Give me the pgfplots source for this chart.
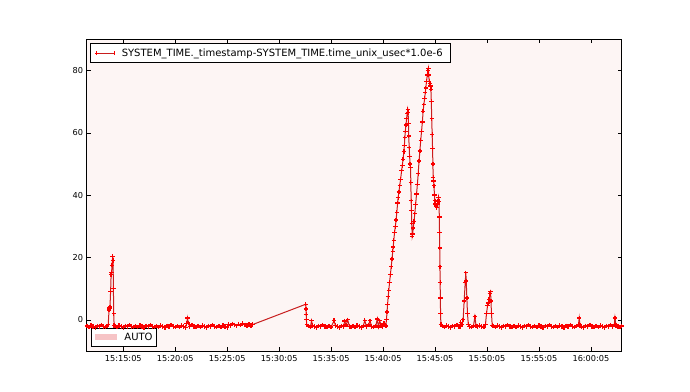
\documentclass[border=0pt]{standalone}
\usepackage{pgfplots}
\usepackage{pgfplotstable}
\pgfplotsset{compat=1.18}
\usepackage{fontspec}
\setmainfont{DejaVu Sans}
\definecolor{bgpink}{RGB}{253,245,244}
\definecolor{autopink}{RGB}{246,196,198}
\definecolor{lineR}{RGB}{200,30,30}
\definecolor{markR}{RGB}{250,0,0}
\pgfplotstableread[row sep=\\]{
x y\\
-3.5 -2.0\\ -3.3 -2.3\\ -3.1 -1.8\\ -2.9 -2.1\\ -2.7 -2.4\\ -2.5 -1.9\\ -2.3 -2.2\\ -2.1 -1.7\\ -1.9 -2.1\\ -1.7 -2.3\\ -1.55 -2.0\\
-1.45 -1.6\\ -1.37 3.2\\ -1.33 3.8\\ -1.28 4.2\\ -1.22 9\\ -1.17 14.5\\ -1.13 15.2\\ -1.08 17.5\\ -1.02 20.4\\ -0.98 19\\ -0.95 10\\ -0.92 2\\ -0.88 -1.8\\
-0.8 -2.0\\ -0.6 -2.3\\ -0.4 -1.8\\ -0.2 -2.1\\ 0 -2.4\\ 0.2 -1.9\\ 0.4 -2.2\\ 0.6 -1.7\\ 0.8 -2.1\\ 1.0 -2.3\\
1.2 -2.0\\ 1.4 -2.3\\ 1.6 -1.8\\ 1.8 -2.1\\ 2.0 -2.4\\ 2.2 -1.9\\ 2.4 -2.2\\ 2.6 -1.7\\ 2.8 -2.1\\ 3.0 -2.3\\
3.2 -2.0\\ 3.4 -2.3\\ 3.6 -1.8\\ 3.8 -2.1\\ 4.0 -2.4\\ 4.2 -1.9\\ 4.4 -2.2\\ 4.6 -1.7\\ 4.8 -2.1\\ 5.0 -2.3\\
5.2 -2.0\\ 5.4 -2.3\\ 5.6 -1.8\\ 5.8 -2.1\\ 6.0 -2.4\\ 6.1 -1.2\\ 6.18 0.6\\ 6.25 -1.0\\ 6.4 -2.2\\ 6.6 -1.7\\ 6.8 -2.1\\ 7.0 -2.3\\
7.2 -2.0\\ 7.4 -2.3\\ 7.6 -1.8\\ 7.8 -2.1\\ 8.0 -2.4\\ 8.2 -1.9\\ 8.4 -2.2\\ 8.6 -1.7\\ 8.8 -2.1\\ 9.0 -2.3\\
9.2 -2.0\\ 9.4 -2.3\\ 9.6 -1.8\\ 9.8 -2.1\\ 10.0 -2.4\\
10.1 -1.5\\ 10.3 -1.8\\ 10.5 -1.3\\ 10.7 -1.6\\ 10.9 -1.9\\ 11.1 -1.4\\ 11.3 -1.7\\ 11.5 -1.2\\ 11.7 -1.6\\ 11.9 -1.8\\ 12.1 -1.5\\ 12.3 -1.8\\ 12.46 -1.5\\
17.56 5.0\\ 17.58 3.5\\ 17.6 1.8\\ 17.62 0\\ 17.65 -1.5\\
17.8 -2.0\\ 18.0 -2.3\\ 18.12 -0.3\\ 18.2 -1.8\\ 18.4 -2.1\\ 18.6 -2.4\\ 18.8 -1.9\\ 19.0 -2.2\\ 19.2 -1.7\\ 19.4 -2.1\\ 19.6 -2.3\\
19.8 -2.0\\ 20.0 -2.3\\ 20.29 -0.2\\ 20.4 -1.8\\ 20.6 -2.1\\ 20.8 -2.4\\ 21.0 -1.9\\ 21.2 -2.2\\ 21.3 -0.4\\ 21.45 -1.7\\ 21.6 0\\ 21.75 -2.1\\ 21.9 -2.3\\
22.1 -2.0\\ 22.3 -2.3\\ 22.5 -1.8\\ 22.7 -2.1\\ 22.9 -2.4\\ 23.1 -1.9\\ 23.24 -0.2\\ 23.4 -2.2\\ 23.6 -1.7\\ 23.74 -0.3\\ 23.9 -2.1\\ 24.1 -2.3\\
24.3 -2.0\\ 24.44 0.3\\ 24.55 -2.3\\ 24.68 -0.3\\ 24.8 -1.8\\ 24.95 -2.1\\ 25.1 -1.2\\ 25.2 -2.0\\
25.27 -2\\ 25.32 0\\ 25.38 2.5\\ 25.43 5\\ 25.49 7.4\\ 25.55 9.5\\ 25.62 12\\ 25.7 14.5\\ 25.78 17\\ 25.86 19.5\\ 25.93 22\\ 25.97 23.4\\
26.03 25.5\\ 26.1 28\\ 26.18 30\\ 26.25 32\\ 26.32 34.5\\ 26.4 37.5\\ 26.45 39.3\\ 26.52 41\\ 26.6 43\\ 26.68 45\\ 26.78 47.8\\ 26.85 49.5\\
26.92 51.5\\ 27.0 54\\ 27.05 56\\ 27.09 58.4\\ 27.14 60.5\\ 27.2 62.5\\ 27.26 64.5\\ 27.32 66.3\\ 27.37 67.5\\ 27.41 66.5\\ 27.44 63\\ 27.47 59\\
27.51 55.2\\ 27.55 52.5\\ 27.6 50\\ 27.64 48.9\\ 27.67 44\\ 27.7 38.2\\ 27.73 35\\ 27.76 31\\ 27.8 26.8\\ 27.84 27.5\\ 27.9 29.5\\ 27.97 31.5\\
28.05 34\\ 28.13 37\\ 28.22 40.4\\ 28.3 43.5\\ 28.38 47\\ 28.46 51\\ 28.54 54.2\\ 28.62 57.5\\ 28.7 60.5\\ 28.78 63.5\\ 28.85 66.9\\ 28.92 69\\
29.0 71\\ 29.06 73\\ 29.11 74.4\\ 29.18 76.5\\ 29.25 78.5\\ 29.31 80\\ 29.35 80.7\\ 29.39 78.5\\ 29.44 76.5\\ 29.5 75.9\\ 29.56 75\\ 29.6 74\\
29.64 70\\ 29.68 64.5\\ 29.72 59.5\\ 29.76 55\\ 29.79 50\\ 29.82 45.7\\ 29.86 44.5\\ 29.9 43\\ 29.94 40\\ 29.98 38.2\\ 30.04 37.2\\ 30.1 36.5\\
30.16 36.1\\ 30.22 37\\ 30.28 38\\ 30.34 39.3\\ 30.38 38\\ 30.41 33\\ 30.43 28\\ 30.45 23\\ 30.47 17\\ 30.49 12\\ 30.51 7\\ 30.53 2\\ 30.56 -1.5\\
30.7 -2.0\\ 30.9 -2.3\\ 31.1 -1.8\\ 31.3 -2.1\\ 31.5 -2.4\\ 31.7 -1.9\\ 31.9 -2.2\\ 32.1 -1.7\\ 32.3 -2.1\\
32.4 -2.2\\ 32.48 -0.8\\ 32.6 -1.6\\ 32.7 0\\ 32.8 6\\ 32.9 12\\ 32.96 15.1\\ 33.0 12.5\\ 33.06 7\\ 33.12 2\\ 33.2 -1.5\\
33.3 -2.1\\ 33.5 -2.3\\ 33.7 -1.9\\ 33.83 1.0\\ 33.95 -2.0\\ 34.1 -2.2\\ 34.3 -1.8\\ 34.5 -2.1\\ 34.7 -2.3\\ 34.85 -1.5\\
34.95 2\\ 35.05 4.5\\ 35.11 5.4\\ 35.2 6.5\\ 35.28 8.5\\ 35.34 9\\ 35.38 6\\ 35.43 2\\ 35.5 -1.8\\
35.6 -2.0\\ 35.8 -2.3\\ 36.0 -1.8\\ 36.2 -2.1\\ 36.4 -2.4\\ 36.6 -1.9\\ 36.8 -2.2\\ 37.0 -1.7\\ 37.2 -2.1\\ 37.4 -2.3\\
37.6 -2.0\\ 37.8 -2.3\\ 38.0 -1.8\\ 38.2 -2.1\\ 38.4 -2.4\\ 38.6 -1.9\\ 38.8 -2.2\\ 39.0 -1.7\\ 39.2 -2.1\\ 39.4 -2.3\\
39.6 -2.0\\ 39.8 -2.3\\ 40.0 -1.8\\ 40.2 -2.1\\ 40.4 -2.4\\ 40.6 -1.9\\ 40.8 -2.2\\ 41.0 -1.7\\ 41.2 -2.1\\ 41.4 -2.3\\
41.6 -2.0\\ 41.8 -2.3\\ 42.0 -1.8\\ 42.2 -2.1\\ 42.4 -2.4\\ 42.6 -1.9\\ 42.8 -2.2\\ 43.0 -1.7\\ 43.2 -2.1\\ 43.4 -2.3\\
43.6 -2.0\\ 43.8 -1.5\\ 43.87 0.6\\ 43.95 -1.8\\ 44.1 -2.1\\ 44.3 -2.4\\ 44.5 -1.9\\ 44.7 -2.2\\ 44.9 -1.7\\ 45.1 -2.1\\ 45.3 -2.3\\
45.5 -2.0\\ 45.7 -2.3\\ 45.9 -1.8\\ 46.1 -2.1\\ 46.3 -2.4\\ 46.5 -1.9\\ 46.7 -2.2\\ 46.9 -1.7\\ 47.1 -2.1\\ 47.25 -1.5\\ 47.31 0.6\\ 47.4 -1.8\\
47.6 -2.1\\ 47.8 -2.3\\ 47.96 -2.0\\
}\systime
\begin{document}
\begin{tikzpicture}
\useasboundingbox (0,0) rectangle (690pt,391pt);
\begin{axis}[
  at={(86.7pt,40pt)}, anchor=south west,
  scale only axis, width=535pt, height=311.7pt,
  xmin=-3.52, xmax=47.96, ymin=-10, ymax=90,
  axis background/.style={fill=bgpink},
  axis line style={black, line width=0.8pt},
  xtick={0,5,...,45},
  xticklabels={15:15:05,15:20:05,15:25:05,15:30:05,15:35:05,15:40:05,15:45:05,15:50:05,15:55:05,16:00:05},
  ytick={0,20,40,60,80},
  tick align=inside, xtick pos=both, ytick pos=both,
  major tick length=4pt,
  tick style={black, line width=0.5pt},
  /pgf/number format/assume math mode=true,
  ticklabel style={font=\fontsize{8.2}{10}\selectfont},
  xticklabel style={yshift=-1pt},
  legend style={at={(0.0062,0.987)}, anchor=north west, draw=black, line width=0.6pt,
    font=\fontsize{10}{12}\selectfont, inner xsep=4pt, inner ysep=3pt, fill=white,
    nodes={inner xsep=4pt}, column sep=3pt},
  legend cell align=left,
]
\addplot[color=lineR, line width=1pt, no marks, forget plot] table[x=x,y=y] {\systime};
\addplot[color=markR, only marks, mark=+, mark size=2.2pt, mark options={line width=1.3pt}, forget plot] table[x=x,y=y] {\systime};
\addlegendimage{legend image code/.code={
  \draw[color=lineR, line width=0.9pt] (0cm,0cm) -- (0.61cm,0cm);
  \draw[color=markR, line width=1.1pt] (-2pt,0pt) -- (2pt,0pt) (0pt,-2pt) -- (0pt,2pt)
    (0.61cm,-2pt) -- (0.61cm,2pt);}}
\addlegendentry{SYSTEM\_TIME.\_timestamp-SYSTEM\_TIME.time\_unix\_usec*1.0e-6}
\node[draw=black, line width=0.6pt, fill=white, anchor=south west, inner xsep=4pt, inner ysep=0pt,
  minimum height=18.7pt, font=\fontsize{10}{12}\selectfont]
  at (rel axis cs:0.0077,0.013) {\textcolor{autopink}{\rule[0.5pt]{21.7pt}{6.7pt}}\hspace{7.6pt}AUTO};
\end{axis}
\end{tikzpicture}
\end{document}
